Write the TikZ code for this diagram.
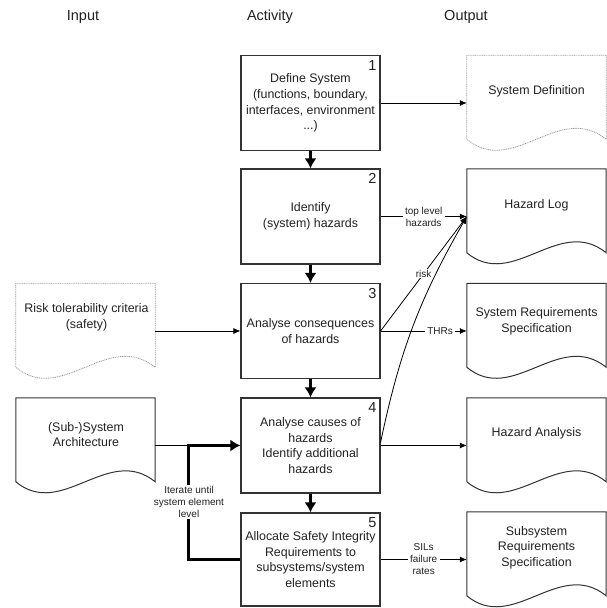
\documentclass[tikz,border=0pt]{standalone}
\usepackage{fontspec}
\setmainfont{Liberation Sans}
\usetikzlibrary{arrows.meta,calc}
\definecolor{ink}{HTML}{222222}
\definecolor{edge}{HTML}{333333}
\newcommand{\docoutline}[2]{\draw[#2] (#1.north west) -- ($(#1.north west)+(0,84)$) .. controls +(46,38) and +(-47,-38) .. ($(#1.north east)+(0,84)$) -- (#1.north east) -- cycle;}
\begin{document}
\begin{tikzpicture}[x=1pt,y=-1pt,
  every node/.style={text=ink},
  box/.style={draw=edge, line width=1.1pt, minimum width=139pt, minimum height=95pt, inner sep=0pt, align=center, font=\fontsize{12.4}{15.7}\selectfont},
  docnode/.style={minimum width=139pt, minimum height=95pt, inner sep=0pt},
  doctext/.style={align=center, font=\fontsize{12.4}{15.7}\selectfont, inner sep=0pt},
  solidline/.style={draw=edge, line width=1pt},
  dotline/.style={draw=black!40, line width=0.8pt, dash pattern=on 1pt off 0.8pt},
  num/.style={font=\fontsize{14.5}{14.5}\selectfont, inner sep=0pt, anchor=north east},
  head/.style={font=\fontsize{14.5}{17}\selectfont},
  lbl/.style={fill=white, inner xsep=2.5pt, inner ysep=1pt, align=center, font=\fontsize{10}{12}\selectfont},
  conn/.style={draw=black, line width=0.8pt},
  arr/.style={conn, -{Latex[length=7pt,width=6pt]}},
  thk/.style={draw=black, line width=2.8pt, -{Latex[length=10pt,width=12pt]}},
]
\useasboundingbox (0,0) rectangle (607,608);
\fill[white] (0,0) rectangle (607,608);

% headers
\node[head] (hin) at (83,17) {Input};
\node[head] (hact) at (270,17) {Activity};
\node[head] (hout) at (466,17) {Output};

% activity boxes
\node[box] (b1) at (310.5,103) {Define System\\(functions, boundary,\\interfaces, environment\\...)};
\node[box] (b2) at (310.5,216.5) {Identify\\(system) hazards};
\node[box] (b3) at (310.5,331) {Analyse consequences\\of hazards};
\node[box] (b4) at (310.5,445.5) {Analyse causes of\\hazards\\Identify additional\\hazards};
\node[box, minimum height=93pt] (b5) at (310.5,559.5) {Allocate Safety Integrity\\Requirements to\\subsystems/system\\elements};

\node[num] (n1) at ($(b1.north east)+(-4,5)$) {1};
\node[num] (n2) at ($(b2.north east)+(-4,5)$) {2};
\node[num] (n3) at ($(b3.north east)+(-4,5)$) {3};
\node[num] (n4) at ($(b4.north east)+(-4,5)$) {4};
\node[num] (n5) at ($(b5.north east)+(-4,5)$) {5};

% documents
\node[docnode] (d1) at (536.5,103) {};
\node[docnode] (d2) at (536.5,216.5) {};
\node[docnode] (d3) at (536.5,331) {};
\node[docnode] (d4) at (536.5,445.5) {};
\node[docnode] (d5) at (536.5,559.5) {};
\node[docnode] (r) at (85.5,331) {};
\node[docnode] (a) at (85.5,445.5) {};

\docoutline{d1}{dotline}
\docoutline{d2}{solidline}
\docoutline{d3}{solidline}
\docoutline{d4}{solidline}
\docoutline{d5}{solidline}
\docoutline{r}{dotline}
\docoutline{a}{solidline}

\node[doctext] (t1) at (536.5,91) {System Definition};
\node[doctext] (t2) at (536.5,205) {Hazard Log};
\node[doctext] (t3) at (536.5,321.5) {System Requirements\\Specification};
\node[doctext] (t4) at (536.5,433) {Hazard Analysis};
\node[doctext] (t5) at (536.5,547.5) {Subsystem\\Requirements\\Specification};
\node[doctext] (t6) at (86.5,317) {Risk tolerability criteria\\(safety)};
\node[doctext] (t7) at (86,434.5) {(Sub-)System\\Architecture};

% connectors
\draw[thk] (b1) -- (b2);
\draw[thk] (b2) -- (b3);
\draw[thk] (b3) -- (b4);
\draw[thk] (b4) -- (b5);

\draw[arr] (b1.east) -- (d1.west);
\draw[arr] (b2.east) -- node[lbl]{top level\\hazards} (d2.west);
\draw[arr] (b3.east) -- node[lbl]{risk} (d2.west);
\draw[arr] ([yshift=3pt]b4.east) to[bend left=9] (d2.west);
\draw[arr] (b3.east) -- node[lbl,pos=0.69]{THRs} (d3.west);
\draw[arr] (b4.east) -- (d4.west);
\draw[arr] (b5.east) -- node[lbl]{SILs\\failure\\rates} (d5.west);
\draw[arr] (r.east) -- (b3.west);

\coordinate (j) at ($(b4.west)+(-52,0)$);
\draw[conn] (a.east) -- (j);
\draw[thk] (b5.west) -| (j) -- (b4.west);
\node[lbl] (it) at (189,502) {Iterate until\\system element\\level};
\end{tikzpicture}
\end{document}
